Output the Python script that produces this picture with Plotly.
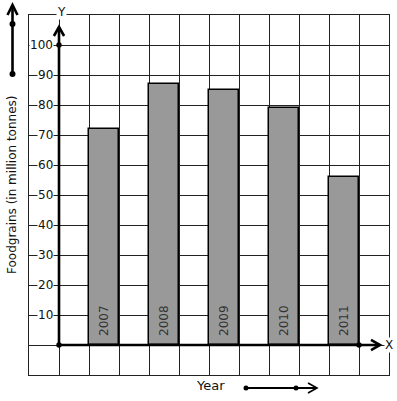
import plotly.graph_objects as go

years = ["2007", "2008", "2009", "2010", "2011"]
values = [72, 87, 85, 79, 56]
y_tick_values = [10, 20, 30, 40, 50, 60, 70, 80, 90, 100]

W, H = 397, 401
L, T, PW, PH = 29, 15, 360, 360  # plot area in window pixels

def px(x):
    return (x - L) / PW

def py(y):
    return (T + PH - y) / PH

bar_x = [1.5 + 2 * i for i in range(len(years))]

fig = go.Figure()
fig.add_trace(go.Bar(
    x=bar_x, y=values, width=1,
    marker=dict(color="#999999", line=dict(color="#000000", width=1.5)),
    hoverinfo="skip", showlegend=False,
))

shapes = []
lw = 2.6
# Y axis
shapes.append(dict(type="line", xref="x", yref="y", x0=0, y0=0, x1=0, y1=106,
                   line=dict(color="black", width=lw)))
shapes.append(dict(type="path", xref="x", yref="y",
                   path="M -0.17 103 L 0 106 L 0.17 103",
                   line=dict(color="black", width=lw)))
# X axis
shapes.append(dict(type="line", xref="x", yref="y", x0=0, y0=0, x1=10.7, y1=0,
                   line=dict(color="black", width=lw)))
shapes.append(dict(type="path", xref="x", yref="y",
                   path="M 10.4 1.7 L 10.7 0 L 10.4 -1.7",
                   line=dict(color="black", width=lw)))
# dots
for (dx, dy) in [(0, 100), (0, 0), (10, 0)]:
    shapes.append(dict(type="circle", xref="x", yref="y",
                       x0=dx - 0.09, x1=dx + 0.09, y0=dy - 0.9, y1=dy + 0.9,
                       fillcolor="black", line=dict(color="black", width=0)))

# left decorative arrow
shapes.append(dict(type="line", xref="paper", yref="paper",
                   x0=px(12.5), y0=py(74), x1=px(12.5), y1=py(5),
                   line=dict(color="black", width=lw)))
shapes.append(dict(type="path", xref="paper", yref="paper",
                   path=f"M {px(7.5)} {py(15)} L {px(12.5)} {py(5)} L {px(17.5)} {py(15)}",
                   line=dict(color="black", width=lw)))
for yy in [24, 74]:
    shapes.append(dict(type="circle", xref="paper", yref="paper",
                       x0=px(9.5), x1=px(15.5), y0=py(yy - 3), y1=py(yy + 3),
                       fillcolor="black", line=dict(width=0)))

# Year decorative arrow
shapes.append(dict(type="line", xref="paper", yref="paper",
                   x0=px(246), y0=py(388), x1=px(317), y1=py(388),
                   line=dict(color="black", width=2)))
shapes.append(dict(type="path", xref="paper", yref="paper",
                   path=f"M {px(308)} {py(383)} L {px(317)} {py(388)} L {px(308)} {py(393)}",
                   line=dict(color="black", width=1.6)))
for xx in [246, 296]:
    shapes.append(dict(type="circle", xref="paper", yref="paper",
                       x0=px(xx - 2.5), x1=px(xx + 2.5), y0=py(385.5), y1=py(390.5),
                       fillcolor="black", line=dict(width=0)))

font = dict(family="DejaVu Sans", size=12, color="#111")
annotations = []
for v in y_tick_values:
    annotations.append(dict(x=-0.17, y=v, xref="x", yref="y", text=str(v),
                            xanchor="right", yanchor="middle", showarrow=False,
                            bgcolor="white", borderpad=0, font=font))
for xv, yr in zip(bar_x, years):
    annotations.append(dict(x=xv, y=8, xref="x", yref="y", text=yr, textangle=-90,
                            xanchor="center", yanchor="middle",
                            showarrow=False, font=dict(family="DejaVu Sans", size=12, color="#333")))
annotations.append(dict(x=px(61), y=py(12), xref="paper", yref="paper", text="Y", showarrow=False,
                        xanchor="center", yanchor="middle",
                        bgcolor="white", borderpad=0, font=font))
annotations.append(dict(x=px(388.5), y=py(345), xref="paper", yref="paper", text="X", showarrow=False,
                        xanchor="center", yanchor="middle",
                        bgcolor="white", borderpad=0, font=font))
annotations.append(dict(x=px(12), y=py(185), xref="paper", yref="paper",
                        text="Foodgrains (in million tonnes)", textangle=-90, showarrow=False,
                        xanchor="center", yanchor="middle", font=font))
annotations.append(dict(x=px(210), y=py(386), xref="paper", yref="paper",
                        text="Year", showarrow=False, xanchor="center", yanchor="middle",
                        font=dict(family="DejaVu Sans", size=13, color="#111")))

fig.update_layout(
    width=W, height=H,
    margin=dict(l=L, r=W - L - PW, t=T, b=H - T - PH, pad=0),
    paper_bgcolor="white", plot_bgcolor="white",
    xaxis=dict(range=[-1, 11], tick0=0, dtick=1, showticklabels=False, ticks="",
               showgrid=True, gridcolor="#222", gridwidth=1, zeroline=False,
               showline=True, linecolor="#222", linewidth=1, mirror=True, fixedrange=True),
    yaxis=dict(range=[-10, 110], tick0=0, dtick=10, showticklabels=False, ticks="",
               showgrid=True, gridcolor="#222", gridwidth=1, zeroline=False,
               showline=True, linecolor="#222", linewidth=1, mirror=True, fixedrange=True),
    shapes=shapes, annotations=annotations, bargap=0,
)

fig.write_html(
    "out.html",
    config={"displayModeBar": False},
    post_script="document.body.style.margin='0px';document.body.style.overflow='hidden';",
)
